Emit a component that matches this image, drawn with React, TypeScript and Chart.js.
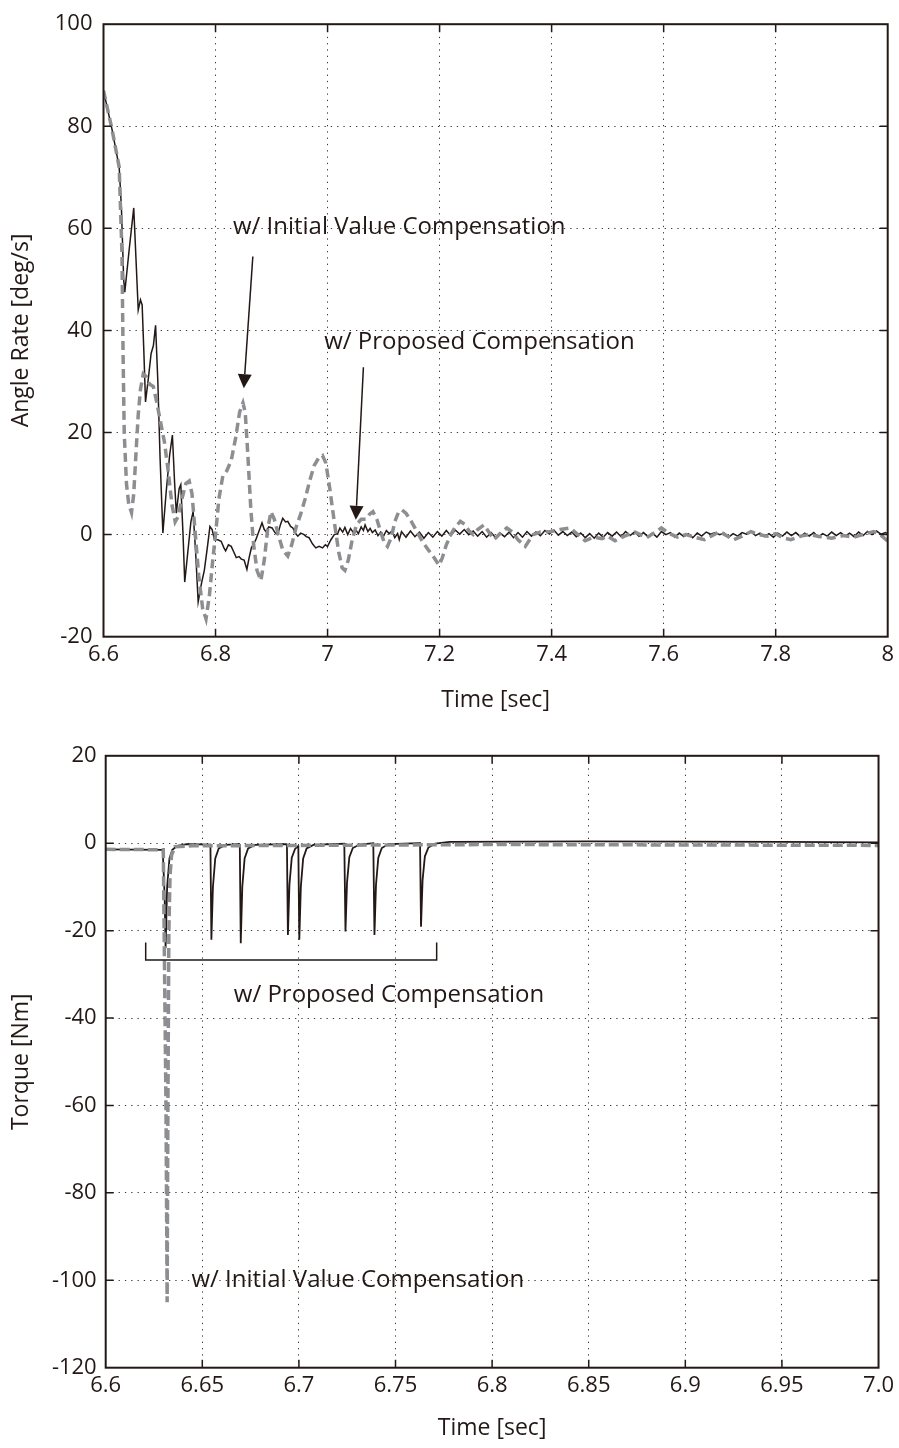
import React, { useEffect, useRef } from "react";
import { Chart, registerables } from "chart.js";

Chart.register(...registerables);

const INK = "#231815";
const GRAY = "#8d8e91";
const FONT = "'Open Sans', 'Noto Sans', sans-serif";

// ---------- Top chart: angle rate ----------
const rateTicksX = [6.6, 6.8, 7, 7.2, 7.4, 7.6, 7.8, 8];
const rateTickLabelsX = ["6.6", "6.8", "7", "7.2", "7.4", "7.6", "7.8", "8"];
const rateTicksY = [-20, 0, 20, 40, 60, 80, 100];

const rateProposed: [number, number][] = [
  [6.6, 87.0], [6.615, 79.5], [6.628, 72.0], [6.632, 64.0], [6.636, 50.0], [6.638, 47.5],
  [6.646, 56.0], [6.654, 64.0], [6.658, 54.0], [6.662, 44.0], [6.666, 46.0], [6.669, 45.0],
  [6.672, 36.0], [6.675, 26.0], [6.68, 30.5], [6.685, 35.5], [6.689, 37.0], [6.693, 41.0],
  [6.697, 30.0], [6.701, 15.0], [6.706, 0.3], [6.712, 8.5], [6.718, 15.5], [6.723, 19.5],
  [6.727, 10.0], [6.73, 4.2], [6.735, 9.0], [6.738, 9.8], [6.742, 0.0], [6.745, -9.3],
  [6.75, -4.0], [6.756, 2.5], [6.76, 4.5], [6.765, -4.5], [6.769, -13.2], [6.775, -9.5],
  [6.78, -7.0], [6.786, -2.0], [6.79, 1.6], [6.794, 1.0], [6.798, -1.0], [6.804, -1.0],
  [6.81, -1.3], [6.815, -2.6], [6.818, -3.2], [6.823, -2.0], [6.828, -2.3], [6.833, -3.5],
  [6.837, -4.5], [6.842, -4.3], [6.846, -4.8], [6.851, -5.0], [6.856, -6.8], [6.86, -4.5],
  [6.864, -2.6], [6.868, -1.8], [6.872, -1.0], [6.877, 0.5], [6.883, 2.3], [6.887, 1.0],
  [6.89, 0.6], [6.895, 1.5], [6.901, 1.3], [6.906, 0.4], [6.911, 0.0], [6.916, 2.0],
  [6.92, 3.2], [6.925, 2.5], [6.929, 2.6], [6.934, 1.6], [6.938, 1.3], [6.943, 0.2],
  [6.947, -0.3], [6.952, 0.3], [6.958, 0.0], [6.962, -0.4], [6.967, -0.6], [6.973, -1.8],
  [6.979, -2.6], [6.985, -2.3], [6.991, -2.6], [6.996, -2.0], [7.0, -2.3], [7.006, -1.0],
  [7.012, 0.0], [7.018, 0.2], [7.022, 1.3], [7.027, 0.5], [7.031, 1.4], [7.036, 0.0],
  [7.041, 1.2], [7.046, 0.4], [7.05, 1.0], [7.055, 0.2], [7.06, 1.5], [7.064, 0.8],
  [7.067, 1.9], [7.072, 0.6], [7.076, 1.2], [7.08, 0.4], [7.085, 0.9], [7.09, -0.2],
  [7.095, 0.5], [7.1, -0.3], [7.105, 0.8], [7.11, 0.2], [7.115, 0.7], [7.12, -0.6],
  [7.125, 0.2], [7.128, -1.0], [7.132, 0.6], [7.14, -0.5], [7.148, 0.7], [7.156, -0.4],
  [7.164, 0.5], [7.172, -0.7], [7.18, 0.4], [7.188, -0.5], [7.196, 0.6], [7.204, -0.3],
  [7.212, 0.8], [7.22, -0.2], [7.228, 0.9], [7.236, 0.1], [7.244, 1.0], [7.252, 0.0],
  [7.26, 0.7], [7.268, -0.3], [7.276, 0.6], [7.284, -0.5], [7.292, 0.4], [7.3, -0.6],
  [7.308, 0.3], [7.316, -0.4], [7.324, 0.5], [7.332, -0.6], [7.34, 0.4], [7.348, -0.5],
  [7.356, 0.6], [7.364, -0.3], [7.372, 0.5], [7.38, -0.2], [7.388, 0.8], [7.396, 0.1],
  [7.404, 0.9], [7.412, -0.1], [7.42, 0.6], [7.428, -0.2], [7.436, 0.5], [7.444, -0.4],
  [7.452, 0.3], [7.46, -0.6], [7.468, 0.2], [7.476, -0.7], [7.484, 0.3], [7.492, -0.5],
  [7.5, 0.4], [7.508, -0.3], [7.516, 0.5], [7.524, -0.4], [7.532, 0.6], [7.54, -0.2],
  [7.548, 0.5], [7.556, -0.3], [7.564, 0.4], [7.572, -0.4], [7.58, 0.3], [7.588, -0.5],
  [7.596, 0.6], [7.604, 0.0], [7.612, 0.4], [7.62, -0.5], [7.628, 0.3], [7.636, -0.4],
  [7.644, 0.2], [7.652, -0.6], [7.66, 0.3], [7.668, -0.3], [7.676, 0.5], [7.684, 0.1],
  [7.692, 0.4], [7.7, 0.0], [7.708, 0.3], [7.716, -0.5], [7.724, 0.2], [7.732, -0.3],
  [7.74, 0.4], [7.748, 0.1], [7.756, 0.6], [7.764, -0.2], [7.772, 0.3], [7.78, -0.4],
  [7.788, 0.2], [7.796, -0.5], [7.804, 0.3], [7.812, -0.3], [7.82, 0.5], [7.828, -0.2],
  [7.836, 0.4], [7.844, -0.4], [7.852, 0.3], [7.86, -0.3], [7.868, 0.4], [7.876, -0.5],
  [7.884, 0.2], [7.892, -0.3], [7.9, 0.5], [7.908, -0.2], [7.916, 0.4], [7.924, -0.3],
  [7.932, 0.3], [7.94, -0.4], [7.948, 0.5], [7.956, -0.2], [7.964, 0.6], [7.972, 0.0],
  [7.98, 0.7], [7.988, 0.1], [7.996, 0.4], [8.0, 0.2],
];

const rateInitial: [number, number][] = [
  [6.6, 87.0], [6.615, 79.5], [6.628, 72.0], [6.633, 55.0], [6.635, 35.0], [6.637, 20.0],
  [6.641, 10.0], [6.645, 6.0], [6.65, 4.3], [6.654, 8.0], [6.658, 16.0], [6.662, 23.5],
  [6.666, 28.5], [6.671, 31.5], [6.676, 31.0], [6.682, 29.5], [6.689, 29.0], [6.694, 26.5],
  [6.702, 22.0], [6.709, 18.0], [6.716, 12.0], [6.722, 6.0], [6.728, 2.5], [6.733, 3.5],
  [6.74, 7.0], [6.747, 10.0], [6.753, 10.5], [6.758, 8.0], [6.764, 0.0], [6.77, -8.0],
  [6.777, -14.5], [6.783, -16.5], [6.789, -12.0], [6.795, -5.0], [6.8, 0.0], [6.806, 7.0],
  [6.813, 11.5], [6.82, 12.5], [6.828, 14.5], [6.836, 19.0], [6.843, 24.0], [6.849, 25.8],
  [6.853, 24.0], [6.858, 15.0], [6.863, 5.0], [6.868, -2.0], [6.874, -7.0], [6.881, -9.0],
  [6.887, -5.0], [6.893, 1.0], [6.899, 4.5], [6.905, 3.0], [6.912, 0.0], [6.92, -3.0],
  [6.929, -4.2], [6.936, -2.0], [6.944, 1.5], [6.952, 4.0], [6.96, 7.0], [6.968, 10.5],
  [6.976, 13.5], [6.984, 15.0], [6.991, 15.5], [6.997, 14.0], [7.004, 9.0], [7.012, 2.5],
  [7.02, -3.5], [7.026, -6.5], [7.031, -7.0], [7.037, -5.0], [7.044, -1.0], [7.052, 2.0],
  [7.06, 3.0], [7.068, 3.0], [7.075, 4.0], [7.081, 4.5], [7.088, 3.0], [7.095, 0.5],
  [7.101, -1.5], [7.107, -2.3], [7.114, -0.5], [7.12, 2.5], [7.127, 4.5], [7.133, 4.8],
  [7.14, 4.2], [7.15, 2.5], [7.16, 0.5], [7.17, -1.5], [7.18, -3.0], [7.19, -4.5],
  [7.199, -6.0], [7.205, -4.5], [7.212, -2.0], [7.22, 0.0], [7.228, 1.5], [7.237, 2.6],
  [7.245, 2.0], [7.252, 0.8], [7.26, 0.0], [7.268, 1.0], [7.279, 1.9], [7.288, 0.5],
  [7.297, -1.0], [7.308, 0.2], [7.32, 1.3], [7.33, 0.5], [7.34, -1.0], [7.353, -2.3],
  [7.367, 0.0], [7.38, 0.5], [7.398, 0.6], [7.415, 1.0], [7.433, 1.3], [7.447, 0.0],
  [7.46, -1.2], [7.475, -0.5], [7.49, -0.8], [7.5, -0.3], [7.513, -1.2], [7.53, -0.3],
  [7.549, 0.5], [7.57, -0.6], [7.596, 1.3], [7.61, 0.2], [7.625, -0.5], [7.64, 0.0],
  [7.655, -0.5], [7.673, -1.0], [7.7, 0.6], [7.725, -1.0], [7.74, -0.3], [7.756, 0.6],
  [7.77, 0.0], [7.785, -0.3], [7.8, 0.2], [7.812, -0.6], [7.827, -1.0], [7.845, -0.3],
  [7.86, 0.0], [7.88, -0.4], [7.9, -0.7], [7.92, -0.2], [7.94, -0.5], [7.955, 0.0],
  [7.975, 0.6], [7.99, -0.3], [8.0, -1.3],
];

// ---------- Bottom chart: torque ----------
const torqueTicksX = [6.6, 6.65, 6.7, 6.75, 6.8, 6.85, 6.9, 6.95, 7.0];
const torqueTickLabelsX = ["6.6", "6.65", "6.7", "6.75", "6.8", "6.85", "6.9", "6.95", "7.0"];
const torqueTicksY = [-120, -100, -80, -60, -40, -20, 0, 20];

const torqueProposed: [number, number][] = [
  [6.6, -1.4], [6.6295, -1.5], [6.6305, -12.0], [6.631, -24.0], [6.6318, -10.0],
  [6.633, -3.5], [6.6345, -1.5], [6.637, -0.6], [6.642, -0.2], [6.6542, -0.3],
  [6.6547, -22.1], [6.6555, -10.0], [6.6567, -3.5], [6.6585, -1.2], [6.662, -0.4], [6.669, -0.2],
  [6.6694, -0.3], [6.6699, -22.9], [6.6707, -10.0], [6.6719, -3.5], [6.6737, -1.2], [6.6772, -0.4],
  [6.6935, -0.2], [6.6938, -0.3], [6.6943, -21.0], [6.6951, -9.5], [6.6963, -3.3], [6.698, -1.3],
  [6.6995, -0.7], [6.6997, -0.7], [6.7002, -22.1], [6.701, -10.0], [6.7022, -3.5], [6.704, -1.2],
  [6.7075, -0.4], [6.7235, -0.1], [6.7236, -0.1], [6.7241, -20.2], [6.7249, -9.0], [6.7261, -3.2],
  [6.7279, -1.1], [6.7314, -0.3], [6.7385, 0.0], [6.7386, 0.0], [6.7391, -21.0], [6.7399, -9.5],
  [6.7411, -3.3], [6.7429, -1.1], [6.7464, -0.2], [6.7626, 0.0], [6.7627, 0.0], [6.7632, -19.1],
  [6.764, -8.5], [6.7652, -3.0], [6.767, -1.0], [6.7705, -0.1], [6.778, 0.3], [6.85, 0.4],
  [6.95, 0.3], [7.0, 0.2],
];

const torqueInitial: [number, number][] = [
  [6.6, -1.4], [6.6298, -1.5], [6.6312, -60.0], [6.6318, -105.0], [6.6322, -60.0],
  [6.6327, -20.0], [6.6333, -7.3], [6.6341, -2.7], [6.6358, -0.8], [6.645, -0.6],
  [6.7, -0.5], [6.8, -0.3], [6.9, -0.4], [7.0, -0.5],
];

// ---------- annotations (data coordinates) ----------
const rateNotes = [
  { text: "w/ Initial Value Compensation", x: 6.831, y: 60.3 },
  { text: "w/ Proposed Compensation", x: 6.994, y: 37.8 },
];
const rateArrows = [
  { from: [6.8666, 54.5], to: [6.8505, 28.7] },
  { from: [7.064, 32.8], to: [7.0505, 2.9] },
];
const torqueNotes = [
  { text: "w/ Proposed Compensation", x: 6.6663, y: -34.7 },
  { text: "w/ Initial Value Compensation", x: 6.6444, y: -99.9 },
];
const torqueBracket = [[6.6207, -22.7], [6.6207, -26.7], [6.7713, -26.7], [6.7713, -22.7]];

type Cfg = {
  W: number; H: number;
  area: { left: number; right: number; top: number; bottom: number };
  xMin: number; xMax: number; yMin: number; yMax: number;
  xTicks: number[]; xLabels: string[]; yTicks: number[];
  xTitle: string; yTitle: string; yTickPad: number;
  series: { data: [number, number][]; color: string; width: number; dash: number[] }[];
  notes: { text: string; x: number; y: number }[];
  arrows: { from: number[]; to: number[] }[];
  bracket: number[][] | null;
};

function makeChart(canvas: HTMLCanvasElement, c: Cfg) {
  const frame = {
    id: "frame",
    afterDatasetsDraw(chart: any) {
      const ctx = chart.ctx as CanvasRenderingContext2D;
      const a = chart.chartArea;
      const xs = chart.scales.x;
      const ys = chart.scales.y;
      ctx.save();
      ctx.strokeStyle = INK;
      ctx.setLineDash([]);
      ctx.lineWidth = 1.5;
      const T = 8;
      ctx.beginPath();
      c.xTicks.forEach((v) => {
        const px = xs.getPixelForValue(v);
        if (Math.abs(px - a.left) < 2 || Math.abs(px - a.right) < 2) return;
        ctx.moveTo(px, a.bottom); ctx.lineTo(px, a.bottom - T);
        ctx.moveTo(px, a.top); ctx.lineTo(px, a.top + T);
      });
      c.yTicks.forEach((v) => {
        const py = ys.getPixelForValue(v);
        if (Math.abs(py - a.top) < 2 || Math.abs(py - a.bottom) < 2) return;
        ctx.moveTo(a.left, py); ctx.lineTo(a.left + T, py);
        ctx.moveTo(a.right, py); ctx.lineTo(a.right - T, py);
      });
      ctx.stroke();
      ctx.lineWidth = 2;
      ctx.strokeRect(a.left, a.top, a.right - a.left, a.bottom - a.top);
      ctx.fillStyle = INK;
      ctx.font = `24px ${FONT}`;
      ctx.textAlign = "left";
      ctx.textBaseline = "middle";
      c.notes.forEach((n) => {
        ctx.fillText(n.text, xs.getPixelForValue(n.x), ys.getPixelForValue(n.y));
      });
      ctx.lineWidth = 1.5;
      c.arrows.forEach((ar) => {
        const x0 = xs.getPixelForValue(ar.from[0]);
        const y0 = ys.getPixelForValue(ar.from[1]);
        const x1 = xs.getPixelForValue(ar.to[0]);
        const y1 = ys.getPixelForValue(ar.to[1]);
        const ang = Math.atan2(y1 - y0, x1 - x0);
        const L = 14, Wd = 7;
        const bx = x1 - L * Math.cos(ang);
        const by = y1 - L * Math.sin(ang);
        ctx.beginPath();
        ctx.moveTo(x0, y0); ctx.lineTo(bx, by);
        ctx.stroke();
        ctx.beginPath();
        ctx.moveTo(x1, y1);
        ctx.lineTo(bx + Wd * Math.sin(ang), by - Wd * Math.cos(ang));
        ctx.lineTo(bx - Wd * Math.sin(ang), by + Wd * Math.cos(ang));
        ctx.closePath();
        ctx.fill();
      });
      if (c.bracket) {
        ctx.beginPath();
        c.bracket.forEach((p, i) => {
          const px = xs.getPixelForValue(p[0]);
          const py = ys.getPixelForValue(p[1]);
          if (i === 0) ctx.moveTo(px, py); else ctx.lineTo(px, py);
        });
        ctx.stroke();
      }
      ctx.restore();
    },
  };

  const tickFont = { family: FONT, size: 22 };
  const titleFont = { family: FONT, size: 23 };
  return new Chart(canvas, {
    type: "line",
    data: {
      datasets: c.series.map((s) => ({
        data: s.data.map(([x, y]) => ({ x, y })),
        borderColor: s.color,
        borderWidth: s.width,
        borderDash: s.dash,
        pointRadius: 0,
        tension: 0,
        fill: false,
      })),
    },
    options: {
      animation: false,
      responsive: false,
      maintainAspectRatio: false,
      events: [],
      layout: { padding: { top: c.area.top, right: c.W - c.area.right, left: 0, bottom: 0 } },
      plugins: { legend: { display: false }, tooltip: { enabled: false } },
      scales: {
        x: {
          type: "linear",
          min: c.xMin,
          max: c.xMax,
          afterBuildTicks: (s: any) => { s.ticks = c.xTicks.map((v) => ({ value: v })); },
          afterFit: (s: any) => { s.height = c.H - c.area.bottom; },
          ticks: {
            callback: (_v: any, i: number) => c.xLabels[i],
            font: tickFont, color: INK, padding: 5, maxRotation: 0, autoSkip: false,
          },
          grid: { color: "#3a3a3a", lineWidth: 1, drawTicks: false },
          border: { display: false, dash: [1.3, 5] },
          title: { display: true, text: c.xTitle, font: titleFont, color: INK, padding: { top: 0, bottom: 6 } },
        },
        y: {
          type: "linear",
          min: c.yMin,
          max: c.yMax,
          afterBuildTicks: (s: any) => { s.ticks = c.yTicks.map((v) => ({ value: v })); },
          afterFit: (s: any) => { s.width = c.area.left; },
          ticks: { font: tickFont, color: INK, padding: c.yTickPad, autoSkip: false },
          grid: { color: "#3a3a3a", lineWidth: 1, drawTicks: false },
          border: { display: false, dash: [1.3, 5] },
          title: { display: true, text: c.yTitle, font: titleFont, color: INK, padding: { top: 8, bottom: 0 } },
        },
      },
    },
    plugins: [frame],
  } as any);
}

function Plot({ cfg }: { cfg: Cfg }) {
  const ref = useRef<HTMLCanvasElement | null>(null);
  useEffect(() => {
    if (!ref.current) return;
    const ch = makeChart(ref.current, cfg);
    return () => ch.destroy();
  }, [cfg]);
  return (
    <canvas
      ref={ref}
      width={cfg.W}
      height={cfg.H}
      style={{ display: "block", width: cfg.W, height: cfg.H }}
    />
  );
}

const topCfg: Cfg = {
  W: 899, H: 720,
  area: { left: 103.5, right: 890, top: 16.7, bottom: 636.7 },
  xMin: 6.6, xMax: 8, yMin: -20, yMax: 100,
  xTicks: rateTicksX, xLabels: rateTickLabelsX, yTicks: rateTicksY,
  xTitle: "Time [sec]", yTitle: "Angle Rate [deg/s]", yTickPad: 11,
  series: [
    { data: rateInitial, color: GRAY, width: 3.5, dash: [9, 5] },
    { data: rateProposed, color: INK, width: 1.5, dash: [] },
  ],
  notes: rateNotes,
  arrows: rateArrows,
  bracket: null,
};

const bottomCfg: Cfg = {
  W: 899, H: 728,
  area: { left: 105.7, right: 880.5, top: 35.8, bottom: 647.7 },
  xMin: 6.6, xMax: 7.0, yMin: -120, yMax: 20,
  xTicks: torqueTicksX, xLabels: torqueTickLabelsX, yTicks: torqueTicksY,
  xTitle: "Time [sec]", yTitle: "Torque [Nm]", yTickPad: 9,
  series: [
    { data: torqueInitial, color: GRAY, width: 3.5, dash: [10, 4] },
    { data: torqueProposed, color: INK, width: 1.8, dash: [] },
  ],
  notes: torqueNotes,
  arrows: [],
  bracket: torqueBracket,
};

export default function App() {
  return (
    <div style={{ position: "absolute", left: 0, top: 0, width: 899, height: 1448, background: "#fff" }}>
      <Plot cfg={topCfg} />
      <Plot cfg={bottomCfg} />
    </div>
  );
}
